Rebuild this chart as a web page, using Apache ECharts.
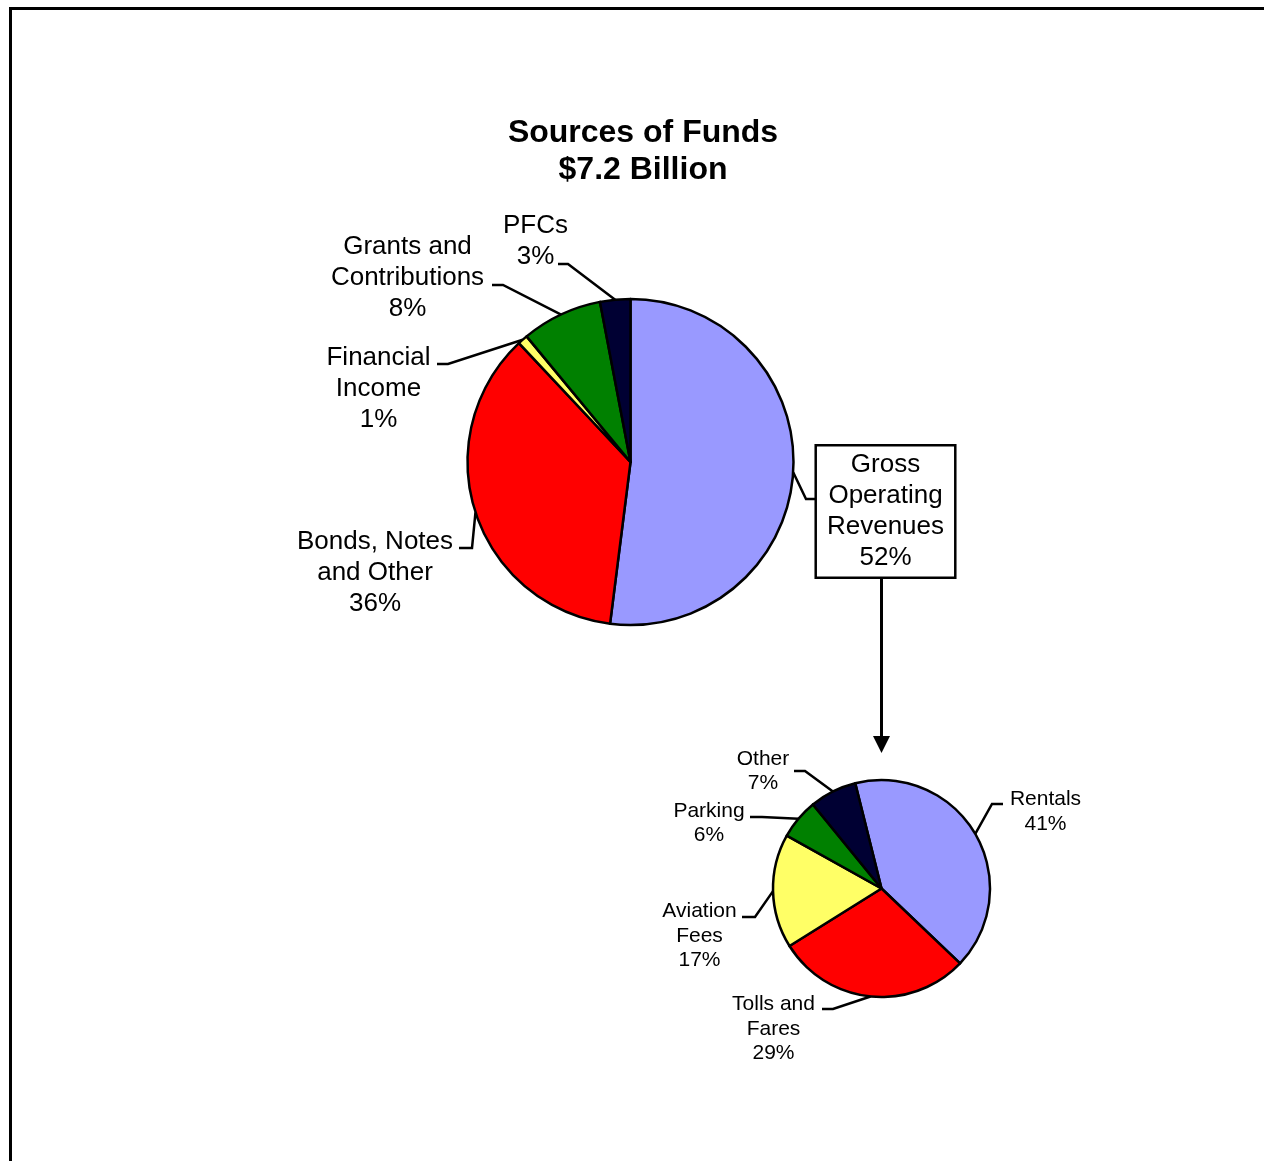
<!DOCTYPE html>
<html>
<head>
<meta charset="utf-8">
<script src="https://cdn.jsdelivr.net/npm/echarts@6/dist/echarts.min.js"></script>
<style>
  html, body { margin: 0; padding: 0; background: #fff; }
  #chart { width: 1264px; height: 1161px; }
</style>
</head>
<body>
<div id="chart"></div>
<script>
// Sources of funds (percent of $7.2 billion)
const fundNames = ['Gross\nOperating\nRevenues', 'Bonds, Notes\nand Other', 'Financial\nIncome', 'Grants and\nContributions', 'PFCs'];
const fundValues = [52, 36, 1, 8, 3];
const fundColors = ['#9999FF', '#FF0000', '#FFFF66', '#008000', '#000033'];

// Breakdown of gross operating revenues (percent)
const revNames = ['Rentals', 'Tolls and\nFares', 'Aviation\nFees', 'Parking', 'Other'];
const revValues = [41, 29, 17, 6, 7];
const revColors = ['#9999FF', '#FF0000', '#FFFF66', '#008000', '#000033'];

const FONT = '"Liberation Sans", Arial, Helvetica, sans-serif';

// Label placement: text centre, leader elbow and leader end (pixels)
const fundLabelPos = [
  { c: [885.5, 511.5], elbow: [806, 499], end: [818, 499] },
  { c: [375, 573], elbow: [472, 548], end: [459, 548] },
  { c: [378.5, 389], elbow: [448, 364], end: [437, 364] },
  { c: [407.5, 278], elbow: [503, 285], end: [492, 285] },
  { c: [535.5, 241.5], elbow: [568, 264], end: [558, 264] }
];
const revLabelPos = [
  { c: [1045.5, 811.5], elbow: [992, 804], end: [1003, 804] },
  { c: [773.5, 1029], elbow: [833, 1009], end: [822, 1009] },
  { c: [699.5, 936], elbow: [755, 917], end: [742, 917] },
  { c: [709, 823], elbow: [762, 817], end: [750, 817] },
  { c: [763, 771], elbow: [805, 771], end: [794, 771] }
];

function makeLayout(pos) {
  return function (params) {
    const L = pos[params.dataIndex];
    const pts = params.labelLinePoints;
    const out = { x: L.c[0], y: L.c[1], align: 'center', verticalAlign: 'middle' };
    if (pts && pts.length) {
      out.labelLinePoints = [pts[0], L.elbow.slice(), L.end.slice()];
    }
    return out;
  };
}

const pctLabel = p => p.name + '\n' + Math.round(p.percent) + '%';

const chart = echarts.init(document.getElementById('chart'), null, { renderer: 'canvas' });

chart.setOption({
  animation: false,
  backgroundColor: '#ffffff',
  title: {
    text: 'Sources of Funds\n$7.2 Billion',
    left: 638,
    top: 110,
    textAlign: 'center',
    textStyle: {
      fontFamily: FONT,
      fontSize: 32,
      fontWeight: 'bold',
      color: '#000',
      lineHeight: 37
    }
  },
  series: [
    {
      type: 'pie',
      center: [630.5, 462],
      radius: 163,
      startAngle: 90,
      clockwise: true,
      avoidLabelOverlap: false,
      emphasis: { disabled: true },
      itemStyle: { borderColor: '#000', borderWidth: 2.5 },
      label: {
        show: true,
        position: 'outside',
        formatter: pctLabel,
        fontFamily: FONT,
        fontSize: 26,
        lineHeight: 31,
        color: '#000',
        align: 'center'
      },
      labelLine: { show: true, length: 20, length2: 12, lineStyle: { color: '#000', width: 2.5 } },
      labelLayout: makeLayout(fundLabelPos),
      data: fundNames.map((n, i) => {
        const d = { name: n, value: fundValues[i], itemStyle: { color: fundColors[i] } };
        if (i === 0) {
          d.label = {
            backgroundColor: '#fff',
            borderColor: '#000',
            borderWidth: 2.5,
            padding: [6, 10, 0, 10]
          };
        }
        return d;
      })
    },
    {
      type: 'pie',
      center: [881.5, 888.5],
      radius: 108.5,
      startAngle: 104,
      clockwise: true,
      avoidLabelOverlap: false,
      emphasis: { disabled: true },
      itemStyle: { borderColor: '#000', borderWidth: 2.5 },
      label: {
        show: true,
        position: 'outside',
        formatter: pctLabel,
        fontFamily: FONT,
        fontSize: 21,
        lineHeight: 24.5,
        color: '#000',
        align: 'center'
      },
      labelLine: { show: true, length: 15, length2: 10, lineStyle: { color: '#000', width: 2.5 } },
      labelLayout: makeLayout(revLabelPos),
      data: revNames.map((n, i) => ({ name: n, value: revValues[i], itemStyle: { color: revColors[i] } }))
    }
  ],
  graphic: [
    {
      type: 'rect',
      shape: { x: 10.5, y: 8.5, width: 2000, height: 2000 },
      style: { fill: 'none', stroke: '#000', lineWidth: 3 },
      silent: true
    },
    {
      type: 'line',
      shape: { x1: 881.5, y1: 577, x2: 881.5, y2: 740 },
      style: { stroke: '#000', lineWidth: 3 },
      silent: true
    },
    {
      type: 'polygon',
      shape: { points: [[873, 736], [890, 736], [881.5, 753]] },
      style: { fill: '#000' },
      silent: true
    }
  ]
});
</script>
</body>
</html>
